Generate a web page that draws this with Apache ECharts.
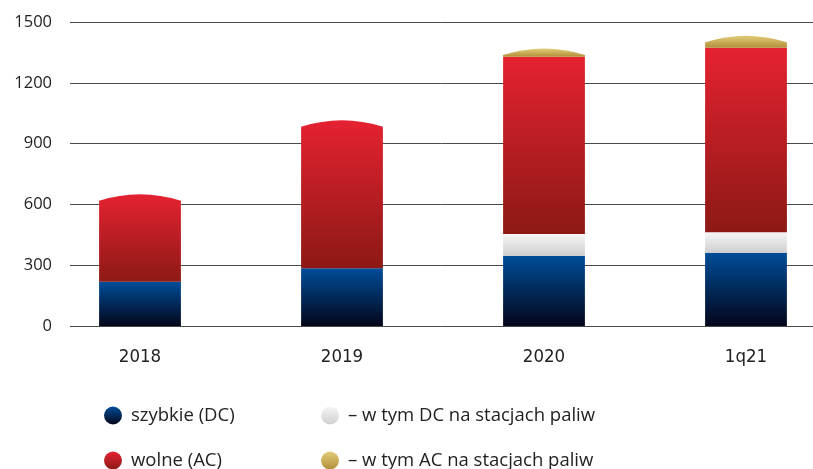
<!DOCTYPE html>
<html>
<head>
<meta charset="utf-8">
<script src="https://cdn.jsdelivr.net/npm/echarts@6/dist/echarts.min.js"></script>
<style>
  html, body { margin: 0; padding: 0; background: #fff; }
  #chart { width: 813px; height: 469px; }
</style>
</head>
<body>
<div id="chart"></div>
<script>
// Charging points in Poland, stacked by type
const categories = ['2018', '2019', '2020', '1q21'];
const fastDC      = [218, 285, 347, 362];
const fastDCFuel  = [0, 0, 107, 100];
const slowAC      = [400, 698, 875, 911];
const slowACFuel  = [0, 0, 8, 27];
const yTicks = [0, 300, 600, 900, 1200, 1500];

const names = [
  'szybkie (DC)',
  '– w tym DC na stacjach paliw',
  'wolne (AC)',
  '– w tym AC na stacjach paliw'
];
const stackOrder = [fastDC, fastDCFuel, slowAC, slowACFuel];

const grad = (top, bottom) => new echarts.graphic.LinearGradient(0, 0, 0, 1, [
  { offset: 0, color: top }, { offset: 1, color: bottom }
]);
const fills = [
  grad('#004d99', '#04061a'),
  grad('#f6f6f6', '#cfcfcf'),
  grad('#e52231', '#8c1915'),
  grad('#e3cc78', '#b18f3a')
];

// index of the highest non-empty segment per category
const topIndex = categories.map((_, i) => {
  let t = -1;
  stackOrder.forEach((arr, s) => { if (arr[i] > 0) t = s; });
  return t;
});

function seriesData(s) {
  return categories.map((_, i) => {
    let base = 0;
    for (let k = 0; k < s; k++) base += stackOrder[k][i];
    return [i, base, base + stackOrder[s][i], topIndex[i] === s ? 1 : 0];
  });
}

function renderSegment(params, api) {
  const lo = api.value(1), hi = api.value(2);
  if (hi - lo <= 0) return;
  const idx = api.value(0);
  const p0 = api.coord([idx, lo]);
  const p1 = api.coord([idx, hi]);
  const w = api.size([1, 0])[0] * 0.405;
  const x0 = p0[0] - w / 2, x1 = p0[0] + w / 2;
  const yb = p0[1], yt = p1[1];
  const dome = api.value(3) ? 6.5 : 0;
  const fill = fills[params.seriesIndex];
  if (!dome) {
    return { type: 'rect', shape: { x: x0, y: yt, width: w, height: yb - yt }, style: { fill } };
  }
  const path = 'M' + x0 + ' ' + yb + ' L' + x0 + ' ' + yt +
    ' Q' + (x0 + w / 2) + ' ' + (yt - dome * 2) + ' ' + x1 + ' ' + yt +
    ' L' + x1 + ' ' + yb + ' Z';
  return { type: 'path', shape: { pathData: path }, style: { fill } };
}

const chart = echarts.init(document.getElementById('chart'), null, { renderer: 'canvas' });

const legendText = { fontSize: 18.5, lineHeight: 18, color: '#222', fontFamily: 'Open Sans', padding: [0, 0, 0, 4] };
// two columns, two rows
const legendSlots = [[104, 406], [321, 406], [104, 451], [321, 451]];

chart.setOption({
  animation: false,
  backgroundColor: '#fff',
  grid: [
    { left: 70, right: 0, top: 22, bottom: 143 },
    // bar band grid reaches past the right edge so the last bar sits near it
    { left: 39, width: 808, top: 22, bottom: 143, outerBoundsMode: 'none', containLabel: false }
  ],
  xAxis: [
    { gridIndex: 0, type: 'category', data: categories, show: false },
    {
      gridIndex: 1, type: 'category', data: categories,
      axisLine: { show: false }, axisTick: { show: false },
      axisLabel: { margin: 22, color: '#222', fontSize: 18.5,
        fontFamily: '"DejaVu Sans Condensed", sans-serif' }
    }
  ],
  yAxis: [
    {
      gridIndex: 0, type: 'value', min: yTicks[0], max: yTicks[yTicks.length - 1], interval: 300,
      axisLine: { show: false }, axisTick: { show: false },
      axisLabel: { margin: 18, color: '#222', fontSize: 16.5, fontFamily: 'Open Sans',
        formatter: v => String(v) },
      splitLine: { lineStyle: { color: '#4a4a4a', width: 1 } }
    },
    {
      gridIndex: 1, type: 'value', min: yTicks[0], max: yTicks[yTicks.length - 1], interval: 300,
      show: false, splitLine: { show: false }
    }
  ],
  legend: [names[0], names[1], names[2], names[3]].map((n, k) => ({
    data: [n], left: legendSlots[k][0], top: legendSlots[k][1], padding: 0,
    itemWidth: 18, itemHeight: 18, icon: 'circle', textStyle: legendText
  })),
  series: names.map((name, s) => ({
    name,
    type: 'custom',
    xAxisIndex: 1,
    yAxisIndex: 1,
    itemStyle: { color: fills[s] },
    encode: { x: 0, y: [1, 2] },
    renderItem: renderSegment,
    data: seriesData(s)
  }))
});
</script>
</body>
</html>
